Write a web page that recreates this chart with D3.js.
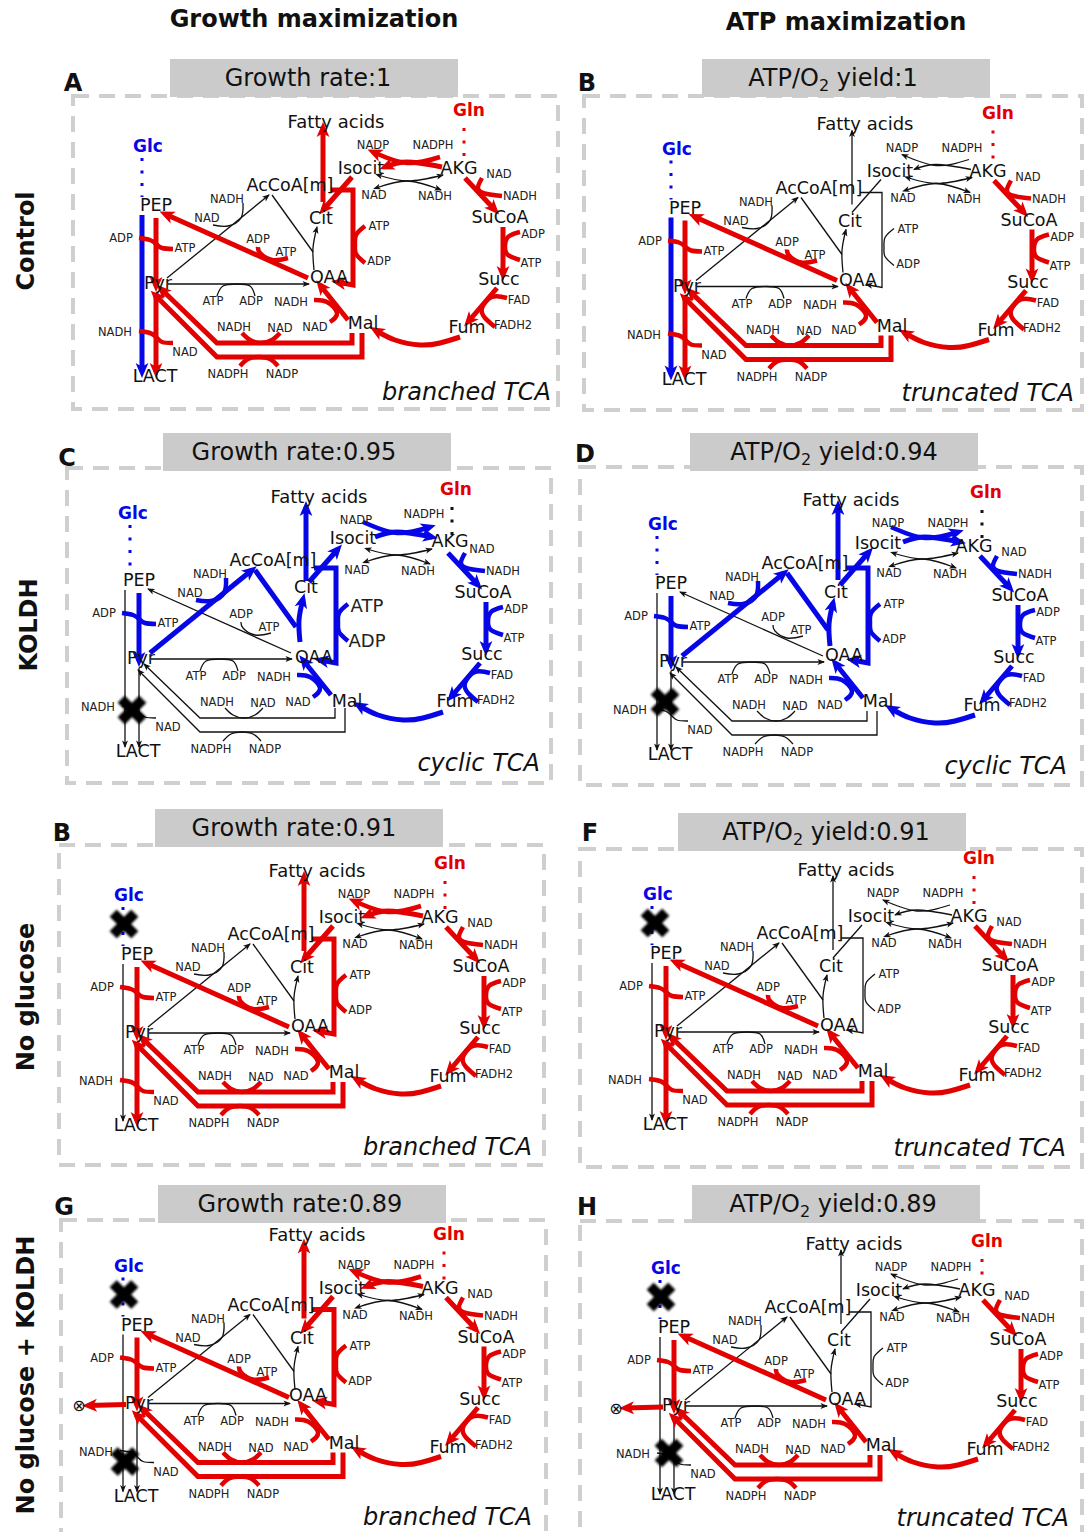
<!DOCTYPE html>
<html>
<head>
<meta charset="utf-8">
<script src="https://cdn.jsdelivr.net/npm/d3@7"></script>
<style>
  body { margin: 0; background: #fff; }
  text { font-family: "DejaVu Sans", sans-serif; fill: #111; }
  text.cofactor { fill: #222; }
</style>
</head>
<body>
<div id="chart"></div>
<script>
// ---- chart content ----
const columnHeaders = ['Growth maximization', 'ATP maximization'];
const rowLabels = ['Control', 'KOLDH', 'No glucose', 'No glucose + KOLDH'];
const panelLetters = ['A', 'B', 'C', 'D', 'B', 'F', 'G', 'H'];
const panelMetric = ['Growth rate', 'ATP/O2 yield', 'Growth rate', 'ATP/O2 yield', 'Growth rate', 'ATP/O2 yield', 'Growth rate', 'ATP/O2 yield'];
const panelValues = ['1', '1', '0.95', '0.94', '0.91', '0.91', '0.89', '0.89'];
const panelModes = ['branched TCA', 'truncated TCA', 'cyclic TCA', 'cyclic TCA', 'branched TCA', 'truncated TCA', 'branched TCA', 'truncated TCA'];
const metabolites = ['PEP', 'Pyr', 'LACT', 'AcCoA[m]', 'Cit', 'Isocit', 'AKG', 'SuCoA', 'Succ', 'Fum', 'Mal', 'OAA', 'Fatty acids'];

const tcaFlux = ['akgSuc', 'sucSucc', 'succFum', 'fumMal', 'malOaa'];
const glycFlux = ['pepPyr', 'oaaPep', 'malPyrNad', 'malPyrNadp'];
const branchFlux = ['citFatty', 'citIsocit', 'malicLoop', 'idhNadp'];
const cyclicFlux = ['pepPyr', 'pyrAcoa', 'acoaCit', 'oaaCit', 'citFatty', 'citIsocit', 'malicLoop', 'idhNadp'];

const panelFlux = [
  [...tcaFlux, ...glycFlux, ...branchFlux, 'pyrLact', 'pepLact'],
  [...tcaFlux, ...glycFlux, 'pyrLact', 'pepLact'],
  [...tcaFlux, ...cyclicFlux],
  [...tcaFlux, ...cyclicFlux],
  [...tcaFlux, ...glycFlux, ...branchFlux, 'pyrLact'],
  [...tcaFlux, ...glycFlux, 'pyrLact'],
  [...tcaFlux, ...glycFlux, ...branchFlux, 'exhaust'],
  [...tcaFlux, ...glycFlux, 'exhaust']
];
const panelColors = ['red', 'red', 'blue', 'blue', 'red', 'red', 'red', 'red'];
const panelKnockouts = [[], [], ['lact'], ['lact'], ['glc'], ['glc'], ['glc', 'lact'], ['glc', 'lact']];

// ---- layout ----
const width = 1089;
const height = 1532;
const palette = { red: '#e20000', blue: '#0606e6', black: '#111' };

const panelLayout = [
  { x: 73, y: 96, w: 485, h: 313, dx: 0, dy: 0, titleX: 170, titleY: 59, titleC: 308, modeX: 551, modeY: 400, letter: [73, 91] },
  { x: 584, y: 96, w: 498, h: 314, dx: 529, dy: 2.5, titleX: 702, titleY: 59, titleC: 833, modeX: 1074, modeY: 401, letter: [587, 91] },
  { x: 67, y: 468, w: 484, h: 315, dx: -17, dy: 375, titleX: 163, titleY: 433, titleC: 294, modeX: 540, modeY: 771, letter: [67, 466] },
  { x: 580, y: 467, w: 502, h: 318, dx: 515, dy: 378, titleX: 690, titleY: 433, titleC: 834, modeX: 1067, modeY: 774, letter: [585, 462] },
  { x: 59, y: 845, w: 485, h: 320, dx: -19, dy: 749, titleX: 155, titleY: 809, titleC: 294, modeX: 532, modeY: 1155, letter: [62, 841] },
  { x: 580, y: 849, w: 502, h: 318, dx: 510, dy: 748, titleX: 678, titleY: 813, titleC: 826, modeX: 1066, modeY: 1156, letter: [590, 841] },
  { x: 61, y: 1220, w: 485, h: 340, dx: -19, dy: 1119.5, titleX: 158, titleY: 1185, titleC: 300, modeX: 532, modeY: 1525, letter: [64, 1215] },
  { x: 580, y: 1221, w: 502, h: 340, dx: 518, dy: 1122, titleX: 692, titleY: 1185, titleC: 833, modeX: 1069, modeY: 1526, letter: [587, 1215] }
];

// small per panel corrections, the original panels were not exact copies
const panelShifts = [
  {},
  {},
  { Glc: [2, -8], GlcDots: [5, -8], Gln: [4, 4], GlnDots: [5, 4], Isocit: [9, -5], AKG: [8, -2], Cit: [2, -6], OAA: [2, 5], Mal: [1, 3], Fum: [5, -1],
    idhNadp: [7, -5], idhNadA: [6, -1], idhNadB: [6, -1], NADPH: [8, -6], citIsocit: [3, -3], oaaCit: [3, -3], malicLoop: [0, 3], citFatty: [0, 4], lact: [1, 3] },
  { Gln: [2, 4], GlnDots: [3, 4], SuCoA: [5, 0], Cit: [0, -4], Isocit: [2, -3], idhNadp: [3, -3], citIsocit: [2, -3], oaaCit: [1, -2], lact: [2, -8] },
  { Gln: [0, 4], GlnDots: [0, 4] },
  { glc: [2, 0] },
  { Gln: [-1, 4], GlnDots: [-1, 4], 'Fatty acids': [0, -6], SuCoA: [5, 0], OAA: [-2, -2], citFatty: [0, -3], lact: [-4, 10] },
  { Gln: [0, 9], GlnDots: [0, 9], LACT: [0, -4], lact: [3, -1] }
];

const nodeLayout = {
  PEP: [156, 205], Pyr: [158, 283], LACT: [155, 376], 'AcCoA[m]': [290, 185],
  Cit: [321, 218], Isocit: [361, 168], AKG: [459, 168], SuCoA: [500, 217],
  Succ: [499, 279], Fum: [467, 327], Mal: [363, 323], OAA: [329, 277], 'Fatty acids': [336, 121]
};

const knockoutLayout = { glc: [143, 175], lact: [148, 332] };

const reactionLayout = {
  pepLact: { pts: [[142, 215], [142, 372]], fixed: 'blue' },
  pepPyr: { pts: [[156, 218], [156, 286]],
    cof: [[139, 238], [150, 240], [156, 244], [162, 248], [173, 249]], labels: [['ADP', 121, 238], ['ATP', 185, 248]] },
  pyrLact: { pts: [[156, 293], [156, 372]],
    cof: [[139, 331], [150, 333], [156, 337], [162, 342], [173, 343]], labels: [['NADH', 115, 332], ['NAD', 185, 352]] },
  oaaPep: { pts: [[308, 278], [165, 214]],
    cof: [[258, 247], [260, 253], [272, 260], [288, 258]], labels: [['ADP', 258, 239], ['ATP', 286, 252]] },
  pyrAcoa: { pts: [[167, 278], [269, 195]],
    cof: [[243, 203], [241, 218], [228, 226], [213, 225]], labels: [['NADH', 227, 199], ['NAD', 207, 218]] },
  acoaCit: { pts: [[272, 195], [313, 252]], noArrow: true },
  oaaCit: { pts: [[314, 270], [313, 248], [317, 227]], curve: true },
  citFatty: { pts: [[323, 202], [323, 128]] },
  citIsocit: { pts: [[323, 210], [352, 177]], reverseRed: true, thinBare: true },
  malicLoop: { pts: [[331, 190], [353, 190], [353, 285], [337, 282]],
    cof: [[365, 226], [356, 235], [355, 245], [356, 254], [365, 263]], labels: [['ATP', 379, 226], ['ADP', 379, 261]] },
  idhNadp: { pts: [[442, 167], [407, 162], [385, 167]], curve: true,
    cof: [[440, 157], [407, 163], [373, 152]], cofArrow: true, labels: [['NADP', 373, 145], ['NADPH', 433, 145]], reverseBlue: true },
  idhNadA: { pts: [[378, 175], [408, 181], [443, 175]], curve: true, labels: [['NAD', 374, 195], ['NADH', 435, 196]], both: true },
  idhNadB: { pts: [[376, 188], [408, 181], [441, 190]], curve: true, both: true },
  akgSuc: { pts: [[465, 178], [495, 210]],
    cof: [[482, 178], [478, 187], [483, 193], [502, 196]], labels: [['NAD', 499, 174], ['NADH', 520, 196]] },
  sucSucc: { pts: [[503, 227], [503, 275]],
    cof: [[520, 232], [508, 237], [505, 247], [508, 255], [520, 260]], labels: [['ADP', 533, 234], ['ATP', 531, 263]] },
  succFum: { pts: [[497, 288], [468, 322]],
    cof: [[507, 298], [492, 297], [482, 308], [485, 318], [495, 327]], labels: [['FAD', 519, 300], ['FADH2', 513, 325]] },
  fumMal: { pts: [[460, 337], [440, 343], [420, 345], [395, 340], [375, 330]], curve: true },
  malOaa: { pts: [[348, 320], [320, 285]],
    cof: [[314, 300], [327, 302], [337, 313], [330, 322]], labels: [['NADH', 291, 302], ['NAD', 315, 327]] },
  malPyrNad: { pts: [[352, 333], [352, 343], [217, 343], [161, 289]],
    cof: [[242, 333], [250, 340], [261, 343], [272, 340], [280, 333]], labels: [['NADH', 234, 327], ['NAD', 280, 328]] },
  malPyrNadp: { pts: [[362, 333], [362, 357], [217, 357], [155, 295]],
    cof: [[240, 366], [248, 359], [259, 357], [270, 359], [278, 366]], labels: [['NADPH', 228, 374], ['NADP', 282, 374]] },
  pyrOaa: { pts: [[168, 284], [309, 284]],
    cof: [[217, 296], [223, 286], [237, 284], [250, 286], [255, 296]], labels: [['ATP', 213, 301], ['ADP', 251, 301]] },
  exhaust: { pts: [[145, 285], [107, 286]], onlyIfOn: true }
};

const svg = d3.select('#chart').append('svg')
  .attr('width', width)
  .attr('height', height);

// arrowheads, one per colour, plus a small one for thin lines
const defs = svg.append('defs');
Object.keys(palette).forEach((name) => {
  defs.append('marker')
    .attr('id', 'head-' + name)
    .attr('viewBox', '-5 -4 8 8')
    .attr('markerUnits', 'userSpaceOnUse')
    .attr('markerWidth', 16)
    .attr('markerHeight', 16)
    .attr('orient', 'auto')
    .append('path')
    .attr('d', 'M-4.5,-3.2 L3,0 L-4.5,3.2 L-2.6,0 Z')
    .attr('fill', palette[name]);
});
defs.append('marker')
  .attr('id', 'head-thin')
  .attr('viewBox', '-5 -4 8 8')
  .attr('markerUnits', 'userSpaceOnUse')
  .attr('markerWidth', 8)
  .attr('markerHeight', 8)
  .attr('orient', 'auto')
  .attr('refX', 2)
  .append('path')
  .attr('d', 'M-4.5,-3 L3,0 L-4.5,3 L-2.6,0 Z')
  .attr('fill', palette.black);
defs.append('marker')
  .attr('id', 'head-thin-start')
  .attr('viewBox', '-3 -4 8 8')
  .attr('markerUnits', 'userSpaceOnUse')
  .attr('markerWidth', 8)
  .attr('markerHeight', 8)
  .attr('orient', 'auto')
  .append('path')
  .attr('d', 'M4.5,-3 L-3,0 L4.5,3 L2.6,0 Z')
  .attr('fill', palette.black);

// the knockout crosses have soft edges in the original
defs.append('filter')
  .attr('id', 'soft')
  .append('feGaussianBlur')
  .attr('stdDeviation', 0.8);

columnHeaders.forEach((h, i) => {
  svg.append('text')
    .text(h)
    .attr('x', i ? 846 : 314)
    .attr('y', i ? 30 : 27)
    .attr('text-anchor', 'middle')
    .attr('font-size', 24)
    .attr('font-weight', 'bold');
});

const rowCenters = [241, 625, 997, 1375];
rowLabels.forEach((r, i) => {
  svg.append('text')
    .text(r)
    .attr('transform', `translate(${i === 1 ? 37 : 34},${rowCenters[i]}) rotate(-90)`)
    .attr('text-anchor', 'middle')
    .attr('font-size', 24)
    .attr('font-weight', 'bold');
});

panelLayout.forEach((p, i) => drawPanel(p, i));

function drawPanel(p, i) {
  const x = d3.scaleLinear().domain([0, width]).range([p.dx, width + p.dx]);
  const y = d3.scaleLinear().domain([0, height]).range([p.dy, height + p.dy]);
  const g = svg.append('g').attr('class', 'panel');
  const color = panelColors[i];
  const flux = panelFlux[i];
  const shifts = panelShifts[i];
  const shift = (key) => shifts[key] || [0, 0];

  // dashed frame and title bar
  g.append('rect')
    .attr('x', p.x).attr('y', p.y).attr('width', p.w).attr('height', p.h)
    .attr('fill', 'none')
    .attr('stroke', '#cfcfcf')
    .attr('stroke-width', 4)
    .attr('stroke-dasharray', '16 10');
  g.append('rect')
    .attr('x', p.titleX).attr('y', p.titleY).attr('width', 288).attr('height', 38)
    .attr('fill', '#cbcbcb');

  const title = g.append('text')
    .attr('x', p.titleC)
    .attr('y', p.titleY + 27)
    .attr('text-anchor', 'middle')
    .attr('font-size', 24);
  if (panelMetric[i].includes('O2')) {
    title.append('tspan').text('ATP/O');
    title.append('tspan').text('2').attr('font-size', 16).attr('dy', 5);
    title.append('tspan').text(' yield:' + panelValues[i]).attr('dy', -5);
  } else {
    title.text(panelMetric[i] + ':' + panelValues[i]);
  }

  g.append('text')
    .text(panelLetters[i])
    .attr('x', p.letter[0])
    .attr('y', p.letter[1])
    .attr('text-anchor', 'middle')
    .attr('font-size', 24)
    .attr('font-weight', 'bold');

  g.append('text')
    .text(panelModes[i])
    .attr('x', p.modeX)
    .attr('y', p.modeY)
    .attr('text-anchor', 'end')
    .attr('font-size', 24)
    .attr('font-style', 'italic');

  // uptake dots
  const dots = [
    { name: 'Glc', tx: 148, ty: 146, lx: 142, y1: 158, y2: 197, c: 'blue', label: 'blue' },
    { name: 'Gln', tx: 469, ty: 110, lx: 464, y1: 128, y2: 160, c: color === 'blue' ? 'black' : 'red', label: 'red' }
  ];
  dots.forEach((d) => {
    const s = shift(d.name);
    const ds = shift(d.name + 'Dots');
    g.append('line')
      .attr('x1', x(d.lx + ds[0])).attr('x2', x(d.lx + ds[0]))
      .attr('y1', y(d.y1 + ds[1])).attr('y2', y(d.y2))
      .attr('stroke', palette[d.c])
      .attr('stroke-width', 3)
      .attr('stroke-dasharray', '3 9.5');
    g.append('text')
      .text(d.name)
      .attr('x', x(d.tx + s[0])).attr('y', y(d.ty + s[1]))
      .attr('text-anchor', 'middle')
      .attr('dominant-baseline', 'central')
      .attr('font-size', 17)
      .attr('font-weight', 'bold')
      .style('fill', palette[d.label]);
  });

  // reactions, thin ones first so the thick ones stay on top
  const ids = Object.keys(reactionLayout);
  const ordered = ids.filter((id) => !flux.includes(id)).concat(ids.filter((id) => flux.includes(id)));

  ordered.forEach((id) => {
    const r = reactionLayout[id];
    const on = flux.includes(id);
    if (r.onlyIfOn && !on) return;
    const cname = on ? (r.fixed || color) : 'black';
    const w = on ? 5 : 1.3;
    const cofW = on ? 4.5 : 1.3;
    const s = shift(id);
    const line = d3.line().x((d) => x(d[0] + s[0])).y((d) => y(d[1] + s[1]));
    const pts = r.pts.slice();
    if (r.reverseRed && color === 'red') pts.reverse();
    if (r.reverseBlue && color === 'blue') pts.reverse();

    const path = g.append('path')
      .attr('d', line.curve(r.curve ? d3.curveNatural : d3.curveLinear)(pts))
      .attr('fill', 'none')
      .attr('stroke', palette[cname])
      .attr('stroke-width', w)
      .attr('stroke-linejoin', 'miter');
    if (!r.noArrow && !(r.thinBare && !on)) {
      path.attr('marker-end', `url(#head-${on ? cname : 'thin'})`);
    }
    if (r.both) path.attr('marker-start', 'url(#head-thin-start)');

    if (r.cof) {
      const cofPts = r.cof.slice();
      if (r.reverseBlue && color === 'blue') cofPts.reverse();
      const cof = g.append('path')
        .attr('d', line.curve(d3.curveNatural)(cofPts))
        .attr('fill', 'none')
        .attr('stroke', palette[cname])
        .attr('stroke-width', cofW);
      if (r.cofArrow) cof.attr('marker-end', `url(#head-${on ? cname : 'thin'})`);
    }

    (r.labels || []).forEach((l) => {
      const ls = shift(l[0]);
      // panel C prints ATP and ADP of the citrate lyase loop in big letters
      const big = i === 2 && id === 'malicLoop';
      g.append('text')
        .text(l[0])
        .attr('class', 'cofactor')
        .attr('x', x(l[1] + (big ? 5 : 0) + (id === 'idhNadp' ? ls[0] : 0)))
        .attr('y', y(l[2] + (big ? 4 : 0) + (id === 'idhNadp' ? ls[1] : 0)))
        .attr('text-anchor', 'middle')
        .attr('dominant-baseline', 'central')
        .attr('font-size', big ? 18 : 11.5);
    });

    if (id === 'exhaust') {
      g.append('text')
        .text('⊗')
        .attr('x', x(98)).attr('y', y(286))
        .attr('text-anchor', 'middle')
        .attr('dominant-baseline', 'central')
        .attr('font-size', 16);
    }
  });

  // metabolite names
  metabolites.forEach((m) => {
    const s = shift(m);
    g.append('text')
      .text(m)
      .attr('x', x(nodeLayout[m][0] + s[0])).attr('y', y(nodeLayout[m][1] + s[1]))
      .attr('text-anchor', 'middle')
      .attr('dominant-baseline', 'central')
      .attr('font-size', m === 'Fatty acids' ? 18 : 17.5);
  });

  // knockouts
  panelKnockouts[i].forEach((k) => {
    const s = shift(k);
    g.append('path')
      .attr('d', d3.symbol(d3.symbolCross, 520)())
      .attr('transform', `translate(${x(knockoutLayout[k][0] + s[0])},${y(knockoutLayout[k][1] + s[1])}) rotate(45)`)
      .attr('fill', '#000')
      .attr('filter', 'url(#soft)');
  });
}
</script>
</body>
</html>
